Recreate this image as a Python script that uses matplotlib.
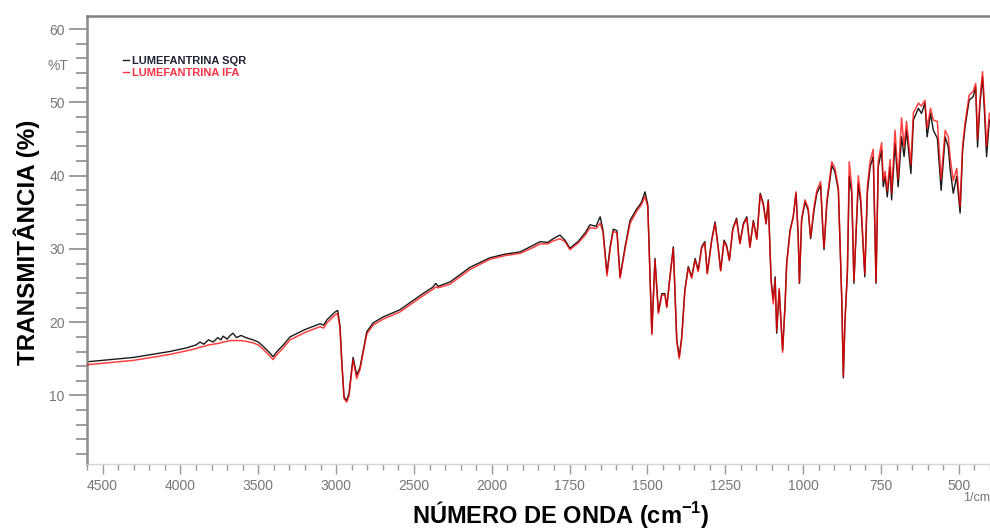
import numpy as np
import matplotlib
matplotlib.use("Agg")
import matplotlib.pyplot as plt
from matplotlib.lines import Line2D
from matplotlib import transforms

plt.rcParams["font.family"] = ["Liberation Sans", "DejaVu Sans"]
plt.rcParams["mathtext.fontset"] = "custom"
plt.rcParams["mathtext.rm"] = "Liberation Sans"
plt.rcParams["mathtext.bf"] = "Liberation Sans:bold"
plt.rcParams["mathtext.default"] = "bf"

# FTIR spectra: wavenumber (1/cm) and transmittance (%)
wavenumber = [
    4600, 4300, 4070, 3960, 3900, 3874, 3850, 3820, 3790, 3760, 3740, 3726,
    3700, 3680, 3662, 3640, 3610, 3580, 3534, 3500, 3468, 3430, 3405, 3380,
    3339, 3296, 3200, 3103, 3080, 3060, 3007, 2990, 2975, 2964, 2949, 2932,
    2917, 2891, 2868, 2847, 2825, 2803, 2763, 2700, 2590, 2450, 2378, 2360,
    2345, 2268, 2140, 2012, 1957, 1909, 1867, 1845, 1820, 1803, 1781, 1765,
    1749, 1735, 1723, 1700, 1685, 1665, 1652, 1643, 1630, 1620, 1610, 1598,
    1588, 1572, 1556, 1534, 1520, 1508, 1499, 1486, 1476, 1465, 1454, 1444,
    1438, 1428, 1417, 1406, 1398, 1390, 1380, 1369, 1358, 1347, 1337, 1326,
    1316, 1308, 1294, 1283, 1273, 1265, 1254, 1246, 1237, 1226, 1214, 1203,
    1192, 1181, 1171, 1160, 1149, 1138, 1128, 1119, 1112, 1103, 1096, 1090,
    1085, 1077, 1066, 1058, 1053, 1042, 1032, 1023, 1016, 1012, 1005, 994,
    984, 976, 965, 956, 944, 937, 933, 924, 908, 898, 887, 882,
    876, 871, 866, 858, 852, 844, 837, 830, 823, 815, 807, 802,
    794, 785, 775, 766, 759, 748, 743, 737, 730, 721, 716, 705,
    695, 684, 676, 668, 654, 646, 630, 620, 609, 602, 591, 582,
    569, 557, 544, 534, 528, 518, 507, 496, 488, 480, 467, 454,
    446, 440, 432, 424, 418, 411, 402,
]

lumefantrina_sqr = [
    14.6, 15.2, 16.0, 16.5, 16.9, 17.3, 17.0, 17.6, 17.3, 17.9, 17.6, 18.1,
    17.7, 18.2, 18.5, 17.9, 18.2, 17.9, 17.6, 17.3, 16.7, 15.9, 15.3, 16.0,
    16.9, 18.0, 19.0, 19.8, 19.6, 20.3, 21.4, 21.6, 19.5, 14.8, 9.8, 9.3,
    10.3, 15.2, 12.8, 13.8, 16.2, 18.7, 19.9, 20.7, 21.7, 23.8, 24.8, 25.3,
    24.9, 25.5, 27.5, 28.8, 29.3, 29.6, 30.5, 31.0, 30.9, 31.4, 31.9, 31.2,
    30.1, 30.6, 31.0, 32.2, 33.3, 33.1, 34.4, 32.6, 26.7, 30.3, 32.7, 32.5,
    26.2, 30.3, 33.9, 35.5, 36.3, 37.8, 36.0, 18.5, 28.7, 21.4, 23.9, 23.9,
    22.1, 26.2, 30.3, 17.6, 15.3, 18.0, 24.4, 27.6, 26.2, 28.7, 27.1, 30.3,
    31.0, 26.7, 31.2, 33.7, 30.3, 27.1, 31.2, 30.5, 28.5, 32.8, 34.2, 30.8,
    33.5, 34.4, 30.3, 33.9, 31.4, 37.6, 36.2, 33.5, 36.7, 25.8, 23.0, 26.2,
    18.5, 24.4, 16.2, 22.6, 28.1, 32.6, 34.4, 37.6, 31.7, 25.3, 33.9, 36.4,
    35.3, 31.4, 35.3, 37.6, 38.7, 32.6, 29.9, 36.2, 41.4, 40.5, 38.0, 31.2,
    23.0, 12.4, 19.9, 26.7, 39.9, 37.6, 25.3, 32.1, 38.9, 36.2, 29.9, 26.2,
    37.6, 41.2, 42.6, 25.3, 41.2, 43.5, 38.5, 39.9, 37.1, 41.2, 36.7, 44.4,
    38.5, 45.3, 42.6, 46.2, 40.3, 47.6, 49.2, 48.5, 49.9, 45.3, 48.5, 46.2,
    45.1, 38.0, 45.3, 43.9, 40.8, 37.6, 39.9, 34.9, 43.5, 46.7, 50.3, 50.8,
    52.1, 43.9, 49.9, 53.5, 48.9, 42.6, 47.6,
]

lumefantrina_ifa = [
    14.2, 14.8, 15.6, 16.1, 16.4, 16.6, 16.7, 16.9, 17.0, 17.1, 17.2, 17.3,
    17.4, 17.5, 17.5, 17.5, 17.5, 17.4, 17.2, 16.9, 16.3, 15.5, 14.9, 15.6,
    16.5, 17.6, 18.6, 19.4, 19.2, 19.9, 21.0, 21.2, 19.2, 14.7, 9.6, 9.1,
    10.0, 14.9, 12.3, 13.5, 16.0, 18.4, 19.6, 20.4, 21.4, 23.5, 24.5, 24.8,
    24.7, 25.2, 27.2, 28.6, 29.1, 29.4, 30.2, 30.7, 30.7, 31.1, 31.4, 31.0,
    29.9, 30.4, 30.8, 31.9, 32.9, 32.8, 33.5, 32.3, 26.3, 30.0, 32.4, 32.2,
    26.0, 30.0, 33.5, 35.2, 36.0, 37.2, 35.7, 18.3, 28.5, 21.2, 23.7, 23.7,
    22.0, 26.0, 30.1, 17.4, 15.0, 17.8, 24.2, 27.4, 26.0, 28.5, 26.9, 30.1,
    30.8, 26.6, 31.0, 33.5, 30.1, 27.0, 31.0, 30.3, 28.4, 32.6, 34.0, 30.7,
    33.3, 34.2, 30.2, 33.7, 31.3, 37.4, 36.0, 33.4, 36.5, 25.6, 22.5, 25.9,
    18.8, 24.6, 15.9, 22.4, 27.9, 32.4, 34.3, 37.8, 31.9, 25.4, 34.1, 36.7,
    35.6, 31.6, 35.8, 38.0, 39.2, 33.0, 30.2, 36.6, 41.9, 41.0, 38.4, 31.4,
    23.1, 12.6, 20.0, 27.0, 41.9, 38.5, 25.6, 32.6, 40.0, 37.0, 30.4, 26.6,
    38.4, 42.0, 43.6, 25.5, 42.0, 44.5, 39.3, 40.6, 37.9, 42.2, 37.6, 46.2,
    39.5, 47.9, 44.0, 47.4, 41.5, 48.6, 49.9, 49.5, 50.3, 46.5, 49.2, 47.6,
    47.4, 39.5, 46.2, 45.3, 42.5, 39.3, 41.0, 35.8, 44.0, 47.2, 51.0, 51.5,
    52.6, 45.0, 50.5, 54.2, 50.0, 44.0, 48.5,
]

series_labels = ["LUMEFANTRINA SQR", "LUMEFANTRINA IFA"]
x_major_ticks = [4500, 4000, 3500, 3000, 2500, 2000, 1750, 1500, 1250, 1000, 750, 500]
y_major_ticks = [10, 20, 30, 40, 50, 60]


# Wavenumber axis compressed by a factor of 2 above 2000 1/cm
def fwd(x):
    x = np.asarray(x, dtype=float)
    return np.where(x > 2000, 2000 + (x - 2000) / 2.0, x)


def inv(y):
    y = np.asarray(y, dtype=float)
    return np.where(y > 2000, 2000 + (y - 2000) * 2.0, y)


fig = plt.figure(figsize=(9.9, 5.29), dpi=100)
ax = fig.add_axes([87 / 990, 1 - 464 / 529, 903 / 990, 448 / 529])
ax.set_xscale("function", functions=(fwd, inv))

ax.plot(wavenumber, lumefantrina_sqr, color="#1a1a1a", lw=1.0, zorder=2)
ax.plot(wavenumber, lumefantrina_ifa, color="#ff0000", lw=1.1, alpha=0.75, zorder=3)

ax.set_xlim(4600, 400)
ax.set_ylim(0.65, 61.8)

minor_x = [v for v in list(range(4600, 2000, -100)) + list(range(2000, 399, -50))
           if v not in x_major_ticks]
ax.set_xticks(x_major_ticks)
ax.set_xticklabels([str(v) for v in x_major_ticks])
ax.set_xticks(minor_x, minor=True)
ax.set_yticks(y_major_ticks)
ax.set_yticks(np.arange(2, 61, 2), minor=True)

ax.tick_params(axis="y", which="major", length=13, width=1.2, color="#8c8c8c",
               labelsize=10, labelcolor="#777777", pad=3)
ax.tick_params(axis="y", which="minor", length=8, width=1.2, color="#8c8c8c")
ax.tick_params(axis="x", which="major", length=7, width=1, color="#9a9a9a",
               labelsize=10, labelcolor="#777777", pad=4)
ax.tick_params(axis="x", which="minor", length=4, width=1, color="#9a9a9a")

ax.spines["right"].set_visible(False)
ax.spines["left"].set_color("#8c8c8c")
ax.spines["left"].set_linewidth(1.8)
ax.spines["top"].set_color("#808080")
ax.spines["top"].set_linewidth(1.8)
ax.spines["bottom"].set_color("#d5d5d5")
ax.spines["bottom"].set_linewidth(1.0)

# unit labels on the axes
trans = transforms.blended_transform_factory(ax.transAxes, ax.transData)
ax.text(-0.021, 55, "%T", transform=trans, ha="right", va="center",
        fontsize=10, color="#777777")
ax.text(0.985, -0.075, "1/cm", transform=ax.transAxes, ha="center", va="center",
        fontsize=9, color="#777777")

ax.set_xlabel("NÚMERO DE ONDA (cm$^{-1}$)", fontsize=17, fontweight="bold")
ax.xaxis.set_label_coords(0.525, -0.078)
ax.set_ylabel("TRANSMITÂNCIA (%)", fontsize=17.5, fontweight="bold")
ax.yaxis.set_label_coords(-0.052, 0.495)

handles = [Line2D([], [], color="#1a1a1a", lw=1.0),
           Line2D([], [], color="#ff3344", lw=1.0)]
leg = ax.legend(handles, series_labels, loc="upper left",
                bbox_to_anchor=(0.04, 0.91), frameon=False,
                handlelength=0.5, handletextpad=0.3, labelspacing=0.15,
                borderpad=0, borderaxespad=0,
                prop={"family": "Liberation Sans", "weight": "bold", "size": 8},
                labelcolor=["#1f2233", "#ff3344"])

fig.savefig("out.png", dpi=100)
